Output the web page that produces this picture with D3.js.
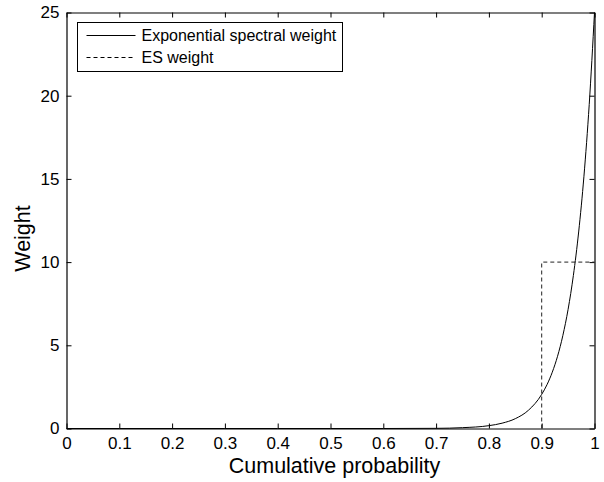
<!DOCTYPE html>
<html>
<head>
<meta charset="utf-8">
<script src="https://cdn.jsdelivr.net/npm/d3@7"></script>
<style>
  body { margin: 0; background: #fff; }
  text { font-family: "Liberation Sans", Arial, Helvetica, sans-serif; fill: #000; }
</style>
</head>
<body>
<div id="chart"></div>
<script>
// Data
const probs = [0, 0.1, 0.2, 0.3, 0.4, 0.5, 0.6, 0.7, 0.75, 0.8, 0.825, 0.85, 0.875, 0.9,
  0.91, 0.92, 0.93, 0.94, 0.95, 0.96, 0.97, 0.98, 0.99, 1.0]
const expWeight = [0, 0, 0, 0, 0, 0, 0, 0.01, 0.05, 0.17, 0.32, 0.59, 1.1, 2.05,
  2.63, 3.38, 4.34, 5.58, 7.16, 9.2, 11.81, 15.16, 19.47, 25]
const esProbs = [0.9, 0.9, 1.0]
const esWeight = [0, 10, 10]
const xTicks = [0, 0.1, 0.2, 0.3, 0.4, 0.5, 0.6, 0.7, 0.8, 0.9, 1]
const yTicks = [0, 5, 10, 15, 20, 25]
const seriesNames = ['Exponential spectral weight', 'ES weight']

// Dimensions
const dimensions = {
  width: 604,
  height: 482,
  margin: { top: 12.5, bottom: 53.5, left: 66.5, right: 9.5 }
}
dimensions.ctrWidth = dimensions.width - dimensions.margin.left - dimensions.margin.right
dimensions.ctrHeight = dimensions.height - dimensions.margin.top - dimensions.margin.bottom

const svg = d3.select('#chart')
  .append('svg')
  .attr('width', dimensions.width)
  .attr('height', dimensions.height)

const ctr = svg.append('g')
  .attr('transform', `translate(${dimensions.margin.left}, ${dimensions.margin.top})`)

// Scales
const xScale = d3.scaleLinear().domain([0, 1]).range([0, dimensions.ctrWidth])
const yScale = d3.scaleLinear().domain([0, 25]).range([dimensions.ctrHeight, 0])

// Axes (MATLAB style: ticks inward, on all four sides)
const tickFmt = d => d === 0 || d === 1 ? String(d) : d3.format('.1f')(d)
const xAxis = d3.axisBottom(xScale).tickValues(xTicks).tickFormat(tickFmt).tickSizeInner(-5).tickSizeOuter(0).tickPadding(8)
const yAxis = d3.axisLeft(yScale).tickValues(yTicks).tickSizeInner(-5).tickSizeOuter(0).tickPadding(7)
const xTop = d3.axisTop(xScale).tickValues(xTicks).tickFormat('').tickSizeInner(-5).tickSizeOuter(0)
const yRight = d3.axisRight(yScale).tickValues(yTicks).tickFormat('').tickSizeInner(-5).tickSizeOuter(0)

ctr.append('g').attr('transform', `translate(0, ${dimensions.ctrHeight})`).call(xAxis)
ctr.append('g').call(yAxis)
ctr.append('g').call(xTop)
ctr.append('g').attr('transform', `translate(${dimensions.ctrWidth}, 0)`).call(yRight)

ctr.selectAll('.domain').attr('stroke', '#000').attr('stroke-width', 1.2)
ctr.selectAll('.tick line').attr('stroke', '#000')
ctr.selectAll('.tick text').attr('font-size', 17).attr('font-family', '"Liberation Sans", Arial, sans-serif')

// Lines
const expData = probs.map((p, i) => ({ p, w: expWeight[i] }))
const esData = esProbs.map((p, i) => ({ p, w: esWeight[i] }))

const line = d3.line()
  .x(d => xScale(d.p))
  .y(d => yScale(d.w))

ctr.append('path')
  .datum(esData)
  .attr('d', line)
  .attr('fill', 'none')
  .attr('stroke', '#222')
  .attr('stroke-width', 1)
  .attr('stroke-dasharray', '4,3')

ctr.append('path')
  .datum(expData)
  .attr('d', line.curve(d3.curveMonotoneX))
  .attr('fill', 'none')
  .attr('stroke', '#000')
  .attr('stroke-width', 1)

// Axis titles
svg.append('text')
  .attr('x', dimensions.margin.left + dimensions.ctrWidth / 2 + 4)
  .attr('y', 473)
  .attr('text-anchor', 'middle')
  .attr('font-size', 21.5)
  .text('Cumulative probability')

svg.append('text')
  .attr('transform', `translate(30, ${dimensions.margin.top + dimensions.ctrHeight / 2 + 18}) rotate(-90)`)
  .attr('text-anchor', 'middle')
  .attr('font-size', 21.5)
  .text('Weight')

// Legend
const legend = svg.append('g').attr('transform', 'translate(77.5, 22.5)')
legend.append('rect')
  .attr('width', 265)
  .attr('height', 49)
  .attr('fill', '#fff')
  .attr('stroke', '#000')
  .attr('stroke-width', 1)

const rows = legend.selectAll('g.row')
  .data(seriesNames)
  .join('g')
  .attr('class', 'row')
  .attr('transform', (d, i) => `translate(0, ${13 + i * 22})`)

rows.append('line')
  .attr('x1', 9).attr('x2', 58)
  .attr('stroke', '#000')
  .attr('stroke-width', 1)
  .attr('stroke-dasharray', (d, i) => i === 1 ? '4,3' : null)

rows.append('text')
  .attr('x', 64)
  .attr('dy', '0.35em')
  .attr('font-size', 16)
  .text(d => d)
</script>
</body>
</html>
